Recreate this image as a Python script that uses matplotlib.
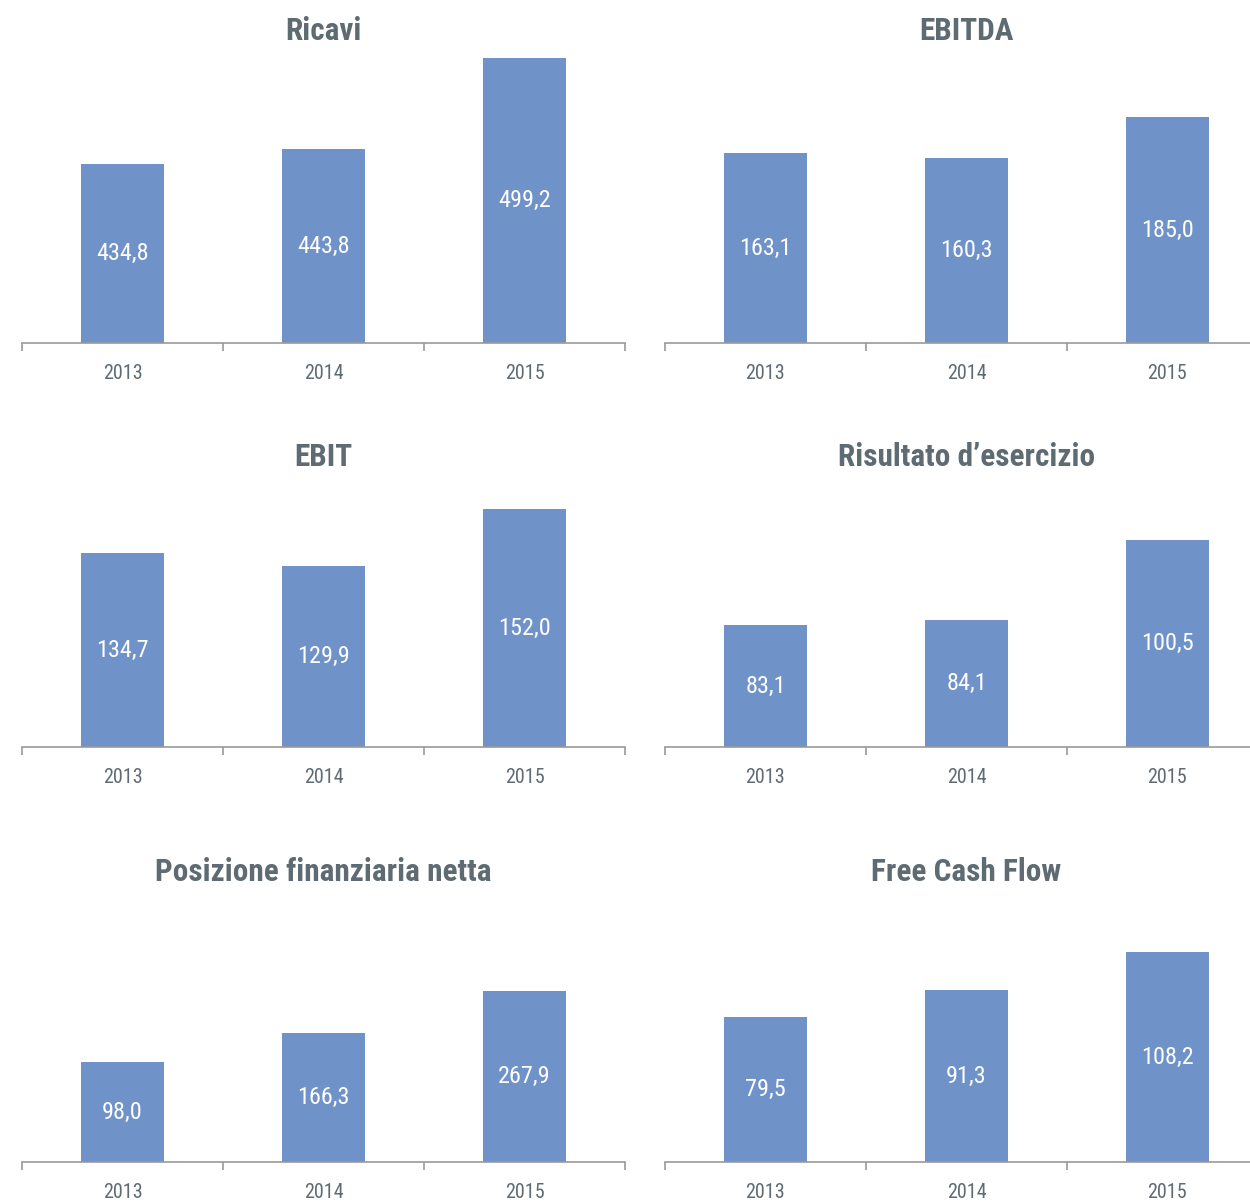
import matplotlib
matplotlib.use("Agg")
import matplotlib.pyplot as plt
from matplotlib import font_manager

# pick a narrow face if one is installed
_names = {f.name for f in font_manager.fontManager.ttflist}
_cond = sorted({f.name for f in font_manager.fontManager.ttflist
                if 'condensed' in str(f.stretch) or 'Condensed' in f.name
                or 'Narrow' in f.name})
_pref = ['Roboto Condensed', 'Liberation Sans Narrow', 'DejaVu Sans Condensed',
         'Open Sans Condensed'] + _cond + ['Roboto', 'Liberation Sans']
font = next(n for n in _pref if n in _names)
plt.rcParams['font.family'] = [font, 'DejaVu Sans']

years = ['2013', '2014', '2015']

titles = ['Ricavi', 'EBITDA', 'EBIT', "Risultato d’esercizio",
          'Posizione finanziaria netta', 'Free Cash Flow']
ricavi = [434.8, 443.8, 499.2]
ebitda = [163.1, 160.3, 185.0]
ebit = [134.7, 129.9, 152.0]
risultato = [83.1, 84.1, 100.5]
pfn = [98.0, 166.3, 267.9]
fcf = [79.5, 91.3, 108.2]
series = [ricavi, ebitda, ebit, risultato, pfn, fcf]

# y-limits per panel (the original axes don't start at zero)
ylims = [(325.6, 508.4), (46.7, 230.5), (58.5, 176.6),
         (58.2, 119.4), (-140.0, 574.0), (14.8, 148.5)]

bar_color = '#6f92c9'
text_gray = '#5f6b73'
axis_gray = '#9a9a9a'

W, H = 1250, 1203
fig = plt.figure(figsize=(W / 100, H / 100), dpi=100)

# panel geometry in pixels: left, baseline y, width, height
left_x = [22, 665]
baselines = [343, 747, 1162]
title_y = [31, 457, 872]
pw, ph = 603, 300

for i, (title, vals) in enumerate(zip(titles, series)):
    row, col = divmod(i, 2)
    x0 = left_x[col]
    yb = baselines[row]
    lo = ylims[i][0]
    ax = fig.add_axes([x0 / W, (H - yb) / H, pw / W, ph / H])
    ax.bar(range(3), [v - lo for v in vals], bottom=lo, width=0.41,
           color=bar_color, zorder=2)
    ax.set_xlim(-0.5, 2.5)
    ax.set_ylim(*ylims[i])
    for k, v in enumerate(vals):
        ax.text(k, (lo + v) / 2, f'{v:.1f}'.replace('.', ','),
                ha='center', va='center', color='white', fontsize=17.5)
    for s in ['top', 'right', 'left']:
        ax.spines[s].set_visible(False)
    ax.spines['bottom'].set_color(axis_gray)
    ax.spines['bottom'].set_linewidth(1.2)
    ax.set_yticks([])
    ax.set_xticks(range(3))
    ax.set_xticklabels(years, fontsize=14.5, color=text_gray)
    ax.tick_params(axis='x', which='major', length=0, pad=15)
    ax.set_xticks([-0.5, 0.5, 1.5, 2.5], minor=True)
    ax.tick_params(axis='x', which='minor', length=6, width=1.2,
                   color=axis_gray, direction='out')
    ax.patch.set_alpha(0)
    fig.text((x0 + pw / 2) / W, 1 - title_y[row] / H, title,
             ha='center', va='center', fontsize=22.5, color=text_gray,
             fontweight='bold')

fig.savefig('out.png', dpi=100, facecolor='white')
